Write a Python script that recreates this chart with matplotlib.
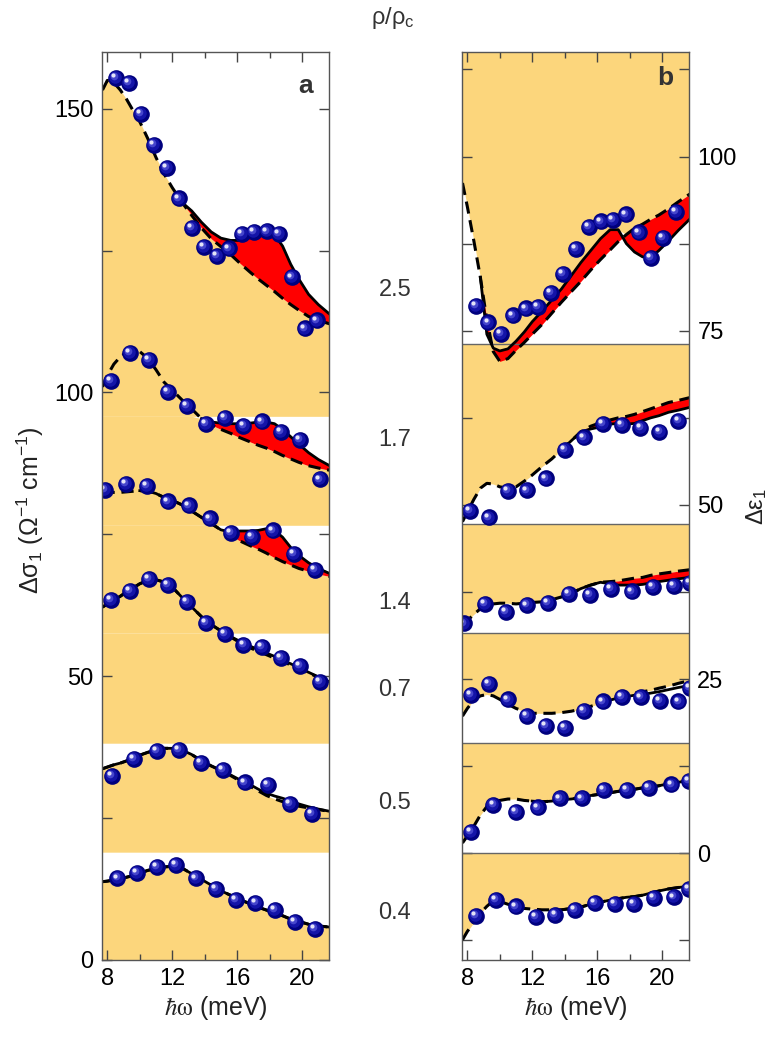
import numpy as np
import matplotlib
matplotlib.use('Agg')
import matplotlib.pyplot as plt
from matplotlib import transforms

plt.rcParams['font.family'] = ['Liberation Sans', 'DejaVu Sans']
plt.rcParams['mathtext.fontset'] = 'custom'
plt.rcParams['mathtext.rm'] = 'Liberation Sans'
plt.rcParams['mathtext.it'] = 'Liberation Sans:italic'
plt.rcParams['mathtext.bf'] = 'Liberation Sans:bold'
plt.rcParams['mathtext.default'] = 'regular'

ORANGE = '#FCD67C'

labels = ['2.5', '1.7', '1.4', '0.7', '0.5', '0.4']

# common energy grid of the model curves (meV)
xg = [7.7, 8.0, 8.4, 8.8, 9.2, 9.6, 10.0, 10.5, 11.0, 11.5, 12.0, 12.6, 13.2, 13.8,
      14.4, 15.0, 15.6, 16.2, 16.8, 17.3, 17.8, 18.3, 18.8, 19.3, 19.8, 20.4, 21.0, 21.7]

# ---------------- panel a : delta sigma_1 ----------------
a_x_25 = [8.54, 9.34, 10.07, 10.87, 11.65, 12.41, 13.19, 13.95, 14.73, 15.51, 16.27,
          17.03, 17.81, 18.58, 19.37, 20.17, 20.9]
a_y_25 = [155.4, 154.5, 149.1, 143.6, 139.6, 134.2, 129.0, 125.6, 124.1, 125.4, 127.9,
          128.3, 128.4, 128.0, 120.3, 111.3, 112.7]
a_das_25 = [153.3, 155.0, 154.6, 153.3, 151.6, 149.6, 147.7, 144.7, 141.4, 138.5, 136.1, 133.5,
            131.2, 129.0, 127.1, 125.7, 124.3, 122.7, 121.2, 120.0, 118.9, 117.8, 116.6, 115.5,
            114.5, 113.4, 112.7, 112.1]
a_sol_25 = [153.3, 155.0, 154.6, 153.3, 151.6, 149.6, 147.7, 144.7, 141.4, 138.5, 136.1, 133.5,
            132.0, 130.0, 128.3, 127.2, 126.8, 126.8, 127.3, 127.7, 127.9, 127.8, 125.8, 122.6,
            120.0, 117.3, 115.5, 113.8]

a_x_17 = [8.21, 9.40, 10.55, 11.72, 12.89, 14.05, 15.22, 16.39, 17.54, 18.71, 19.86, 21.09]
a_y_17 = [102.0, 107.0, 105.8, 100.1, 97.7, 94.5, 95.5, 94.1, 94.9, 93.0, 91.7, 84.7]
a_das_17 = [101.0, 103.0, 105.0, 106.3, 107.1, 107.4, 107.2, 106.0, 104.0, 101.8, 100.4, 98.7,
            97.1, 95.4, 94.3, 93.5, 92.8, 92.0, 91.3, 90.7, 90.2, 89.6, 88.9, 88.3, 87.7, 87.1,
            86.7, 86.3]
a_sol_17 = [101.0, 103.0, 105.0, 106.3, 107.1, 107.4, 107.2, 106.0, 104.0, 101.8, 100.4, 98.7,
            97.1, 95.4, 94.8, 94.6, 94.5, 94.5, 94.6, 94.8, 94.8, 94.5, 93.5, 92.2, 90.9, 89.4,
            88.2, 87.1]

a_x_14 = [7.86, 9.15, 10.44, 11.72, 13.01, 14.32, 15.61, 16.90, 18.2, 19.49, 20.80]
a_y_14 = [82.9, 83.9, 83.5, 80.8, 80.1, 77.8, 75.2, 74.5, 75.7, 71.6, 68.7]
a_das_14 = [82.4, 82.4, 82.4, 82.4, 82.5, 82.6, 82.7, 82.6, 82.2, 81.5, 81.0, 80.2, 79.1, 78.0,
            76.9, 75.8, 74.8, 73.8, 73.0, 72.4, 71.7, 70.9, 70.2, 69.6, 69.0, 68.5, 68.0, 67.6]
a_sol_14 = [82.4, 82.4, 82.4, 82.4, 82.5, 82.6, 82.7, 82.6, 82.2, 81.5, 81.0, 80.2, 79.1, 78.0,
            76.9, 75.8, 75.4, 75.6, 75.6, 75.7, 76.0, 75.7, 74.5, 72.7, 71.3, 70.0, 69.0, 68.1]

a_x_07 = [8.21, 9.40, 10.57, 11.72, 12.89, 14.05, 15.22, 16.39, 17.54, 18.71, 19.86, 21.09]
a_y_07 = [63.5, 65.1, 67.1, 66.1, 63.1, 59.4, 57.5, 55.5, 55.2, 53.3, 51.8, 49.0]
a_sol_07 = [62.2, 62.7, 63.4, 64.1, 64.9, 65.6, 66.3, 66.9, 67.0, 66.6, 65.7, 63.9, 62.2, 60.5,
            59.1, 58.0, 57.0, 56.1, 55.3, 54.7, 54.1, 53.5, 52.8, 52.2, 51.5, 50.7, 49.9, 49.0]
a_das_07 = [62.2, 62.7, 63.4, 64.1, 64.9, 65.6, 66.3, 66.9, 67.0, 66.6, 65.7, 63.9, 62.2, 60.5,
            59.1, 58.0, 56.9, 55.9, 55.0, 54.4, 53.8, 53.2, 52.6, 52.0, 51.3, 50.6, 49.8, 49.0]

a_x_05 = [8.27, 9.64, 11.04, 12.39, 13.77, 15.14, 16.49, 17.87, 19.24, 20.62]
a_y_05 = [32.4, 35.4, 36.8, 37.0, 34.7, 33.5, 31.3, 30.8, 27.5, 25.7]
a_sol_05 = [33.7, 34.0, 34.4, 34.7, 35.1, 35.6, 36.1, 36.6, 37.0, 37.3, 37.3, 37.0, 36.2, 35.1,
            34.2, 33.4, 32.6, 31.7, 30.9, 30.1, 29.4, 28.9, 28.5, 28.0, 27.5, 27.0, 26.6, 26.2]
a_das_05 = [33.7, 34.0, 34.4, 34.7, 35.1, 35.6, 36.1, 36.6, 37.0, 37.3, 37.3, 37.0, 36.2, 35.1,
            34.2, 33.4, 32.5, 31.5, 30.6, 29.8, 29.0, 28.4, 27.9, 27.5, 27.1, 26.8, 26.5, 26.2]

a_x_04 = [8.62, 9.81, 11.04, 12.23, 13.46, 14.69, 15.90, 17.13, 18.32, 19.57, 20.80]
a_y_04 = [14.4, 15.3, 16.4, 16.7, 14.4, 12.5, 10.6, 10.0, 8.8, 6.7, 5.5]
a_sol_04 = [13.8, 13.9, 14.1, 14.3, 14.6, 14.9, 15.3, 15.8, 16.1, 16.4, 16.5, 16.2, 15.2, 14.2,
            13.2, 12.2, 11.4, 10.6, 9.9, 9.3, 8.8, 8.3, 7.8, 7.2, 6.8, 6.3, 6.0, 5.8]
a_das_04 = a_sol_04

# ---------------- panel b : delta epsilon_1 ----------------
b_x_25 = [8.52, 9.29, 10.06, 10.83, 11.59, 12.35, 13.13, 13.91, 14.69, 15.47, 16.21, 16.98,
          17.77, 18.55, 19.32, 20.06, 20.84]
b_y_25 = [78.6, 76.2, 74.5, 77.2, 78.2, 78.4, 80.4, 83.2, 86.8, 89.9, 90.7, 90.9, 91.7, 89.1,
          85.5, 88.3, 92.1]
b_das_25 = [96.2, 92.8, 87.9, 82.7, 76.6, 72.0, 70.6, 71.0, 72.2, 73.3, 74.5, 75.9, 77.5, 79.1,
            80.6, 82.1, 83.7, 85.2, 86.6, 87.8, 88.8, 89.7, 90.3, 91.0, 91.6, 92.5, 93.5, 94.6]
b_sol_25 = [96.2, 92.8, 87.9, 82.7, 74.5, 72.5, 72.1, 72.4, 73.5, 74.8, 76.3, 77.8, 79.4, 81.0,
            82.9, 84.8, 86.5, 88.2, 89.5, 89.5, 87.5, 86.3, 85.6, 85.5, 86.5, 87.9, 89.4, 91.0]

b_x_17 = [8.17, 9.34, 10.50, 11.67, 12.82, 14.01, 15.18, 16.35, 17.52, 18.67, 19.84, 21.01]
b_y_17 = [49.2, 48.2, 52.0, 52.1, 53.8, 57.9, 59.7, 61.6, 61.5, 61.1, 60.5, 62.1]
b_das_17 = [47.6, 49.0, 50.8, 52.4, 53.1, 53.0, 52.6, 52.4, 52.6, 53.4, 54.3, 55.5, 56.6, 57.9,
            59.2, 60.5, 61.3, 61.8, 62.2, 62.5, 62.7, 63.0, 63.4, 63.8, 64.2, 64.7, 65.0, 65.4]
b_sol_17 = [47.6, 49.0, 50.8, 52.4, 53.1, 53.0, 52.6, 52.4, 52.6, 53.4, 54.3, 55.5, 56.6, 57.9,
            59.2, 60.5, 60.9, 61.2, 61.6, 61.7, 61.6, 61.7, 62.1, 62.5, 62.8, 63.3, 63.6, 64.0]

b_x_14 = [7.8, 9.09, 10.38, 11.67, 12.97, 14.26, 15.55, 16.84, 18.14, 19.43, 20.72, 21.7]
b_y_14 = [33.0, 35.8, 34.6, 35.6, 36.0, 37.2, 37.1, 38.0, 37.6, 38.2, 38.4, 38.8]
b_das_14 = [32.8, 33.4, 34.3, 35.1, 35.7, 35.8, 35.9, 35.9, 35.8, 35.9, 36.0, 36.1, 36.4, 36.8,
            37.3, 38.0, 38.5, 38.9, 39.0, 39.1, 39.3, 39.5, 39.6, 39.9, 40.1, 40.3, 40.5, 40.7]
b_sol_14 = [32.8, 33.4, 34.3, 35.1, 35.7, 35.8, 35.9, 35.9, 35.8, 35.9, 36.0, 36.1, 36.4, 36.8,
            37.3, 38.0, 38.5, 38.9, 38.7, 38.5, 38.5, 38.5, 38.6, 38.8, 39.0, 39.2, 39.4, 39.6]

b_x_07 = [8.21, 9.34, 10.52, 11.69, 12.86, 14.03, 15.2, 16.35, 17.52, 18.69, 19.86, 21.01, 21.7]
b_y_07 = [22.7, 24.3, 22.1, 19.7, 18.3, 18.0, 20.5, 21.8, 22.5, 22.4, 21.9, 21.8, 23.8]
b_das_07 = [19.7, 20.8, 22.0, 22.6, 22.8, 22.6, 22.1, 21.4, 20.8, 20.4, 20.1, 20.1, 20.1, 20.2,
            20.4, 20.7, 21.1, 21.5, 22.0, 22.4, 22.7, 23.0, 23.2, 23.4, 23.7, 24.0, 24.4, 24.8]
b_sol_07 = [19.7, 20.8, 22.0, 22.6, 22.8, 22.6, 22.1, 21.4, 20.8, 20.4, 20.1, 20.1, 20.1, 20.2,
            20.4, 20.7, 21.1, 21.5, 22.0, 22.3, 22.5, 22.7, 22.8, 23.0, 23.2, 23.5, 23.8, 24.1]

b_x_05 = [8.21, 9.6, 10.98, 12.33, 13.71, 15.08, 16.43, 17.81, 19.18, 20.58, 21.66]
b_y_05 = [3.1, 7.0, 6.0, 6.6, 7.9, 7.9, 9.1, 9.1, 9.4, 9.9, 10.4]
b_sol_05 = [1.5, 2.5, 3.9, 5.5, 6.7, 7.4, 7.6, 7.8, 7.8, 7.6, 7.5, 7.4, 7.5, 7.7, 7.8, 8.0, 8.3,
            8.5, 8.7, 8.9, 9.1, 9.2, 9.4, 9.5, 9.7, 10.0, 10.2, 10.5]
b_das_05 = b_sol_05

b_x_04 = [8.54, 9.77, 11.0, 12.21, 13.42, 14.63, 15.86, 17.07, 18.28, 19.51, 20.72, 21.66]
b_y_04 = [-9.0, -6.7, -7.6, -9.1, -8.8, -8.1, -7.1, -7.2, -7.2, -6.4, -6.3, -5.1]
b_sol_04 = [-12.4, -11.2, -9.9, -8.6, -7.6, -6.8, -6.9, -7.3, -7.6, -7.9, -8.0, -8.1, -8.1, -8.1,
            -7.9, -7.7, -7.3, -7.0, -6.7, -6.5, -6.3, -6.2, -6.0, -5.7, -5.4, -5.1, -4.9, -4.7]
b_das_04 = b_sol_04

# stripe boundaries (bottom -> top), one stripe per density
a_bounds = [0, 19.0, 38.2, 57.6, 76.6, 95.8, 160]
b_bounds = [-15.3, 0, 15.85, 31.6, 47.3, 73.1, 115]
# where the solid curve becomes visible over the dashed one (meV)
a_solid_from = [7.7, 7.7, 7.7, 10.0, 13.8, 12.6]
b_solid_from = [13.8, 12.0, 16.2, 13.8, 13.8, 8.8]

a_series = [(a_x_04, a_y_04, a_sol_04, a_das_04), (a_x_05, a_y_05, a_sol_05, a_das_05),
            (a_x_07, a_y_07, a_sol_07, a_das_07), (a_x_14, a_y_14, a_sol_14, a_das_14),
            (a_x_17, a_y_17, a_sol_17, a_das_17), (a_x_25, a_y_25, a_sol_25, a_das_25)]
b_series = [(b_x_04, b_y_04, b_sol_04, b_das_04), (b_x_05, b_y_05, b_sol_05, b_das_05),
            (b_x_07, b_y_07, b_sol_07, b_das_07), (b_x_14, b_y_14, b_sol_14, b_das_14),
            (b_x_17, b_y_17, b_sol_17, b_das_17), (b_x_25, b_y_25, b_sol_25, b_das_25)]


def spheres(ax, x, y):
    fig = ax.figure
    ax.plot(x, y, 'o', ms=12, color='#00007E', mec='none', zorder=6)
    t0 = transforms.offset_copy(ax.transData, fig=fig, x=-0.6, y=0.6, units='points')
    ax.plot(x, y, 'o', ms=9, color='#1414A8', mec='none', transform=t0, zorder=7)
    t1 = transforms.offset_copy(ax.transData, fig=fig, x=-1.3, y=1.3, units='points')
    ax.plot(x, y, 'o', ms=5.5, color='#4646CC', mec='none', transform=t1, zorder=8)
    t2 = transforms.offset_copy(ax.transData, fig=fig, x=-2.0, y=2.0, units='points')
    ax.plot(x, y, 'o', ms=3, color='#E4E4F8', mec='none', transform=t2, zorder=9)


def draw(ax, series, bounds, below, solid_from):
    xs = np.array(xg)
    for i, (px, py, sol, das) in enumerate(series):
        lo, hi = bounds[i], bounds[i + 1]
        sol = np.array(sol)
        das = np.array(das)
        if below:
            env = np.clip(np.minimum(sol, das), lo, hi)
            ax.fill_between(xs, lo, env, color=ORANGE, lw=0, zorder=1)
        else:
            env = np.clip(np.maximum(sol, das), lo, hi)
            ax.fill_between(xs, env, hi, color=ORANGE, lw=0, zorder=1)
        if i >= 3:
            ax.fill_between(xs, sol, das, color='red', lw=0, zorder=2)
        ax.plot(xs, das, color='k', lw=2.2, ls=(0, (4, 2.2)), zorder=4)
        keep = xs >= solid_from[i] - 1e-9
        ax.plot(xs[keep], sol[keep], color='k', lw=2, zorder=4)
        spheres(ax, px, py)


fig = plt.figure(figsize=(7.71, 10.37), dpi=100)
W, H = 771, 1037
axa = fig.add_axes([102 / W, 1 - 960 / H, 227 / W, 908 / H])
axb = fig.add_axes([462 / W, 1 - 960 / H, 227 / W, 908 / H])

draw(axa, a_series, a_bounds, True, a_solid_from)
draw(axb, b_series, b_bounds, False, b_solid_from)
for b in b_bounds[1:-1]:
    axb.axhline(b, color='#666666', lw=1, zorder=3)

axa.set_ylim(0, 160)
axb.set_ylim(-15.3, 115)
axa.set_yticks([0, 50, 100, 150])
axa.set_yticks([25, 75, 125], minor=True)
axb.set_yticks([0, 25, 50, 75, 100])
axb.set_yticks([-12.5, 12.5, 37.5, 62.5, 87.5, 112.5], minor=True)

for ax in (axa, axb):
    ax.set_xlim(7.67, 21.66)
    ax.set_xticks([8, 12, 16, 20])
    ax.set_xticks([10, 14, 18], minor=True)
    ax.tick_params(which='both', direction='in', top=True, right=True, left=True,
                   labelsize=17, color='#444444', width=1, length=7, pad=6)
    ax.tick_params(axis='x', which='minor', length=4)
    for s in ax.spines.values():
        s.set_color('#555555')
        s.set_linewidth(1)
        s.set_zorder(10)
    ax.set_xlabel(r'$\mathit{\hbar}\mathrm{\omega}$ (meV)', fontsize=18, color='#222222',
                  labelpad=3, math_fontfamily='stix')

axb.tick_params(axis='y', which='both', labelleft=False, labelright=True)

axa.text(0.895, 0.963, 'a', transform=axa.transAxes, fontsize=19, fontweight='bold',
         color='#333333', ha='center', va='center', zorder=12)
axb.text(0.895, 0.971, 'b', transform=axb.transAxes, fontsize=19, fontweight='bold',
         color='#333333', ha='center', va='center', zorder=12)

fig.text(30 / W, 1 - 510 / H, 'Δσ$_1$ (Ω$^{-1}$ cm$^{-1}$)', rotation=90, fontsize=18,
         color='#222222', ha='center', va='center')
fig.text(757 / W, 1 - 507 / H, 'Δε$_1$', rotation=90, fontsize=17, color='#222222',
         ha='center', va='center')
fig.text(393 / W, 1 - 18 / H, 'ρ/ρ$_c$', fontsize=17, color='#333333', ha='center', va='center')

label_y = [913, 803, 690, 603, 440, 290]
for lab, yy in zip(labels[::-1], label_y):
    fig.text(395 / W, 1 - yy / H, lab, fontsize=17, color='#333333', ha='center', va='center')

fig.savefig('out.png', dpi=100)
